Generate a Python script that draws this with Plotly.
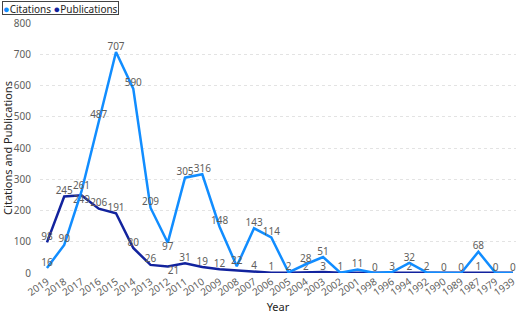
import plotly.graph_objects as go

years = ["2019", "2018", "2017", "2016", "2015", "2014", "2013", "2012", "2011", "2010",
         "2009", "2008", "2007", "2006", "2005", "2004", "2003", "2002", "2001", "1998",
         "1996", "1994", "1992", "1990", "1989", "1987", "1979", "1939"]
citations = [16, 90, 261, 487, 707, 590, 209, 97, 305, 316,
             148, 22, 143, 114, 2, 28, 51, 1, 11, 0,
             3, 32, 2, 0, 0, 68, 0, 0]
publications = [98, 245, 249, 206, 191, 80, 26, 21, 31, 19,
                12, 8, 4, 1, 1, 2, 3, 1, 1, 1,
                1, 2, 1, 1, 1, 1, 1, 1]

# label display choices (Power BI hides overlapping labels)
pub_hidden = {"2008", "2005", "2002", "2001", "1998", "1996", "1992", "1990", "1989", "1979", "1939"}
cit_below = {"2012"}
pub_below = {"2017": "bottom center", "2012": "bottom right"}

C_CIT = "#118DFF"
C_PUB = "#12239E"
FONT = "Segoe UI, Noto Sans, Open Sans, sans-serif"
LBL = "#605E5C"

cit_text = [str(v) for v in citations]
cit_pos = ["bottom center" if y in cit_below else "top center" for y in years]
pub_text = ["" if y in pub_hidden else str(v) for y, v in zip(years, publications)]
pub_pos = [pub_below.get(y, "top center") for y in years]

fig = go.Figure()
fig.add_trace(go.Scatter(x=years, y=publications, mode="lines+text", name="Publications",
                         line=dict(color=C_PUB, width=2.5), text=pub_text,
                         textposition=pub_pos, textfont=dict(family=FONT, size=10, color=LBL),
                         showlegend=False, cliponaxis=False))
fig.add_trace(go.Scatter(x=years, y=citations, mode="lines+text", name="Citations",
                         line=dict(color=C_CIT, width=2.5), text=cit_text,
                         textposition=cit_pos, textfont=dict(family=FONT, size=10, color=LBL),
                         showlegend=False, cliponaxis=False))

L_MARGIN, R_MARGIN = 40, 2
plot_w = 520 - L_MARGIN - R_MARGIN

fig.update_layout(
    width=520, height=314,
    margin=dict(l=L_MARGIN, r=R_MARGIN, t=23, b=41),
    paper_bgcolor="white", plot_bgcolor="white",
    font=dict(family=FONT, size=10, color=LBL),
    showlegend=False,
    xaxis=dict(type="category", range=[-0.404, 27.18], tickangle=-35,
               tickfont=dict(size=10, color=LBL), showgrid=False, showline=False,
               zeroline=False, ticks="",
               title=dict(text="Year", font=dict(size=11, color="#252423"), standoff=4)),
    yaxis=dict(range=[0, 800], dtick=100, showgrid=True, gridcolor="#E3E3E3",
               griddash="dot", gridwidth=1, zeroline=False, showline=False,
               tickfont=dict(size=10, color=LBL), ticklabelstandoff=8,
               title=dict(text="Citations and Publications",
                          font=dict(size=11, color="#252423"), standoff=4)),
    annotations=[dict(
        xref="paper", yref="paper",
        x=(2 - L_MARGIN) / plot_w, y=1 + 22 / 250,
        xanchor="left", yanchor="top", showarrow=False,
        height=12, valign="middle",
        text=(f"<span style='color:{C_CIT};font-size:11px'>●</span>Citations "
              f"<span style='color:{C_PUB};font-size:11px'>●</span>Publications"),
        font=dict(family=FONT, size=10, color="#252423"),
        bordercolor="#444444", borderwidth=1, borderpad=0, bgcolor="white")],
)

fig.write_html("out.html")
